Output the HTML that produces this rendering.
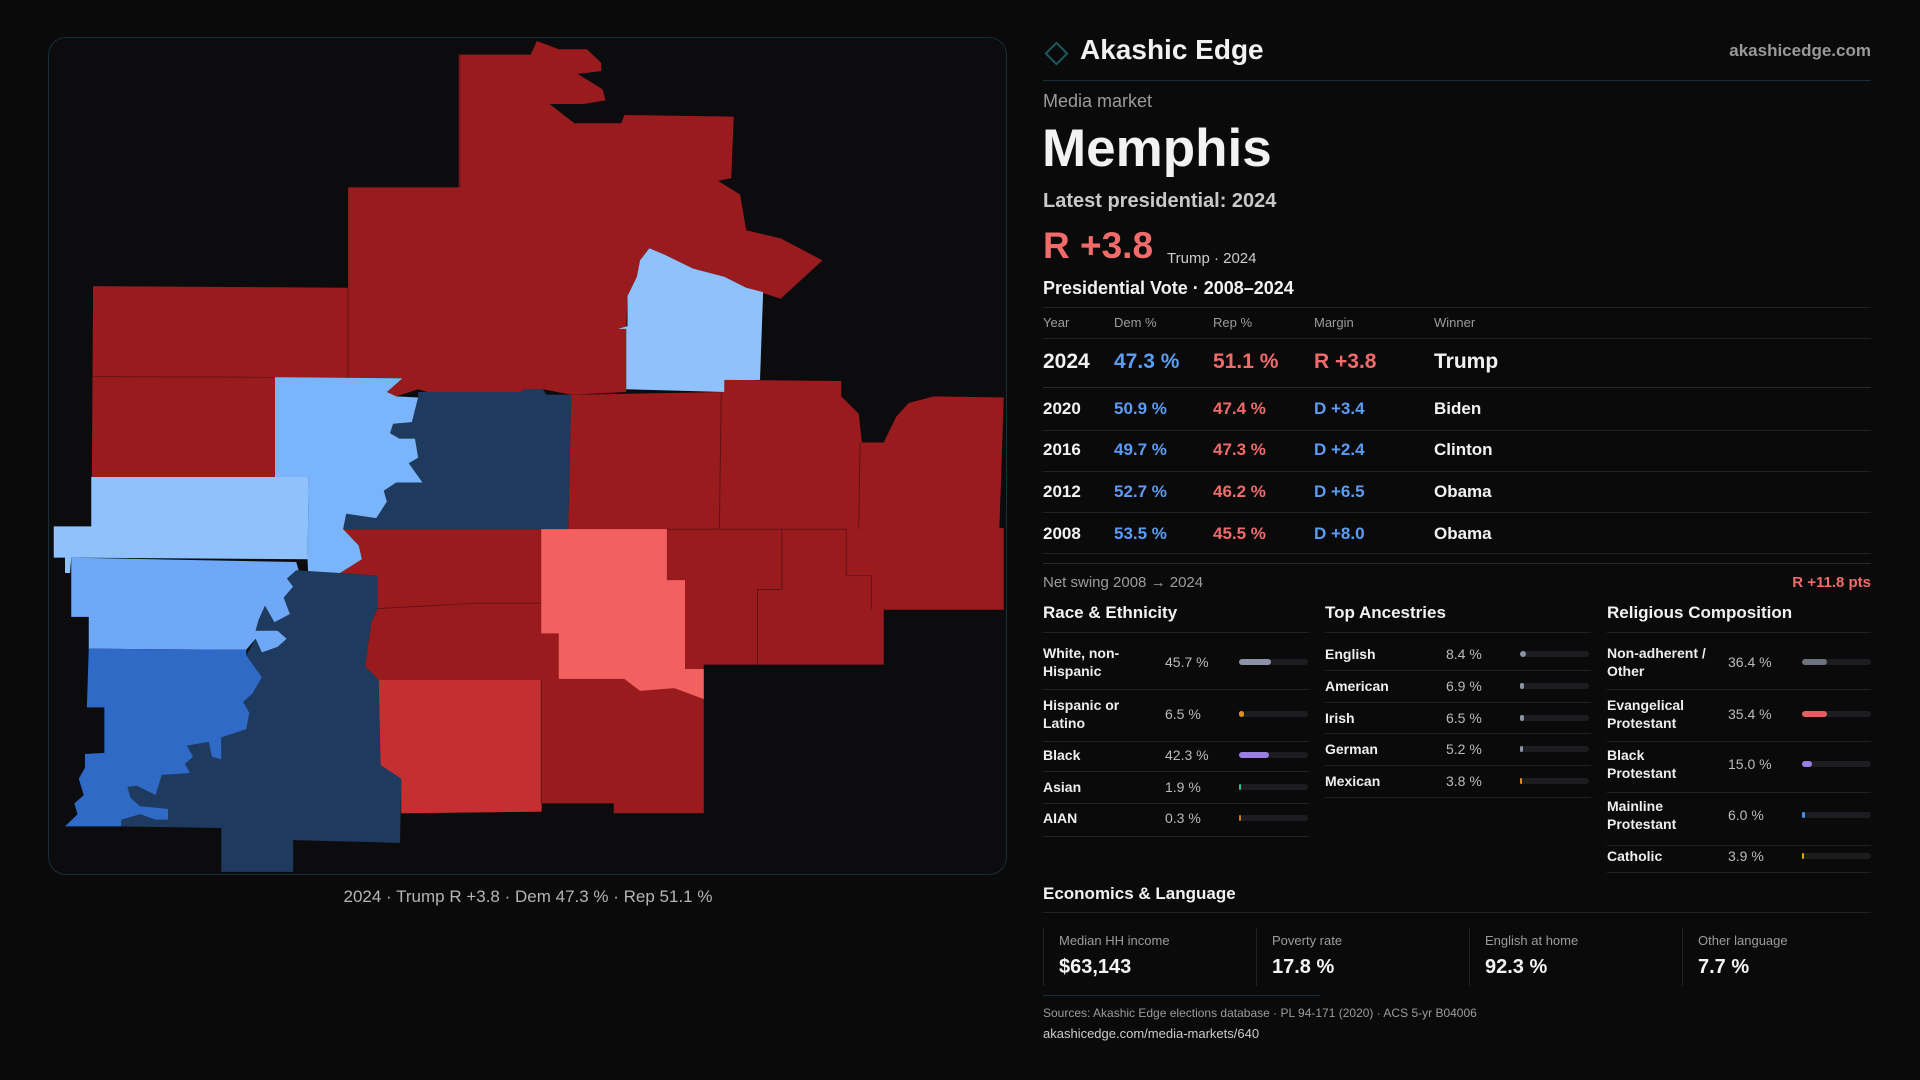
<!DOCTYPE html>
<html><head><meta charset="utf-8">
<style>
*{margin:0;padding:0;box-sizing:border-box}
body{width:1920px;height:1080px;background:#0a0a0b;position:relative;overflow:hidden;font-family:"Liberation Sans",sans-serif;color:#f2f2f2}
.a{position:absolute;white-space:nowrap;line-height:1}
.g{color:#9c9c9c}
.b{color:#5b9cf5}
.r{color:#f26b6b}
.hl{position:absolute;height:1px;background:#202124}
.trk{position:absolute;height:6px;border-radius:3px;background:#1c1d20}
.fill{position:absolute;left:0;top:0;height:6px;border-radius:3px}
.lab{position:absolute;font-size:14px;line-height:18px;font-weight:bold;color:#eee}
.val{position:absolute;font-size:14px;line-height:1;color:#bbb}
.sb{position:absolute;top:928px;height:58px;border-left:1px solid #222;width:213px}
.sb .l{position:absolute;left:15px;top:5px;font-size:13px;color:#9c9c9c}
.sb .v{position:absolute;left:15px;top:28px;font-size:20px;font-weight:bold;color:#f4f4f4}
</style></head><body>

<div style="position:absolute;left:48px;top:37px;width:959px;height:838px;border:1px solid #123036;border-radius:18px;background:#0c0c0e"></div>
<svg style="position:absolute;left:40px;top:30px" width="980" height="860" viewBox="0 0 1568 1568" preserveAspectRatio="none">
<polygon fill="#991b1e" points="670,45 785,45 795,20 830,35 875,35 898,60 898,75 860,80 900,108 905,128 870,135 815,135 855,170 930,170 935,155 1110,158 1106,270 1085,275 1120,300 1130,365 1185,380 1252,420 1185,490 1130,470 1095,450 1045,435 1000,410 975,398 960,420 955,450 940,485 938,545 938,660 850,665 805,655 770,660 620,660 605,655 570,668 555,660 580,635 376,633 376,815 83,815 85,467 493,470 493,287 670,287"/>
<polygon fill="#8fc1fc" points="975,398 1000,410 1045,435 1095,450 1130,470 1157,478 1152,638 1095,640 1095,660 938,655 938,545 925,545 940,540 940,485 955,450 960,420"/>
<polygon fill="#991b1e" points="850,665 1095,660 1095,638 1282,640 1282,668 1310,700 1315,752 1350,752 1370,705 1390,680 1430,668 1542,670 1535,908 1542,908 1542,1057 1350,1057 1350,1157 1062,1157 1062,1428 918,1428 918,1410 803,1410 803,1425 578,1428 578,1365 545,1340 542,1185 520,1160 530,1080 540,1055 540,995 480,990 515,965 510,940 485,910 845,910"/>
<polygon fill="#1e3a5f" points="605,660 620,660 770,660 775,655 805,655 810,665 850,665 845,910 485,910 490,882 538,890 555,860 550,840 570,825 612,825 590,790 605,780 600,745 575,745 560,735 565,718 595,715 605,670"/>
<polygon fill="#7ab4fa" points="376,633 580,635 555,660 570,668 605,670 595,715 565,718 560,735 575,745 600,745 605,780 590,790 612,825 570,825 550,840 555,860 538,890 490,882 485,910 510,940 515,965 480,990 430,1012 428,965 430,815 376,815"/>
<polygon fill="#8fc1fc" points="82,815 430,815 428,965 50,962 48,990 40,990 40,962 22,962 22,905 82,905"/>
<polygon fill="#6ea8f7" points="50,962 410,970 415,990 405,1015 390,1035 400,1065 375,1080 360,1050 350,1075 345,1095 380,1095 395,1110 380,1125 355,1135 345,1110 330,1130 78,1128 78,1070 50,1070"/>
<polygon fill="#1e3a5f" points="480,990 540,995 540,1055 530,1080 520,1160 542,1185 545,1340 578,1365 576,1482 405,1477 405,1535 290,1535 290,1455 130,1452 130,1440 160,1430 185,1440 205,1440 205,1420 160,1415 145,1400 140,1380 155,1378 185,1395 195,1358 240,1355 232,1338 245,1325 235,1305 270,1298 275,1325 290,1330 290,1290 330,1275 335,1245 325,1225 340,1210 355,1180 330,1140 345,1110 355,1135 380,1125 395,1110 380,1095 345,1095 350,1075 360,1050 375,1080 400,1065 390,1035 405,1015 395,1000 410,985"/>
<polygon fill="#2f6ac6" points="78,1128 330,1130 330,1140 355,1180 340,1210 325,1225 335,1245 330,1275 290,1290 290,1330 275,1325 270,1298 235,1305 245,1325 232,1338 240,1355 195,1358 185,1395 155,1378 140,1380 145,1400 160,1415 205,1420 205,1440 185,1440 160,1430 130,1440 130,1452 40,1452 60,1430 55,1410 70,1395 62,1365 72,1345 72,1320 103,1318 103,1235 75,1235"/>
<polygon fill="#f26060" points="802,910 1003,910 1003,1003 1032,1003 1032,1165 1062,1165 1062,1220 1015,1200 960,1205 935,1183 830,1183 830,1100 802,1100"/>
<polygon fill="#c52f31" points="542,1185 802,1185 802,1425 578,1428 578,1365 545,1340"/>
<g stroke="#5c1214" stroke-width="1.5" fill="none">
<polyline points="83,632 376,633"/><polyline points="493,470 493,633"/><polyline points="672,287 672,45"/>
<polyline points="1090,660 1087,910"/><polyline points="1312,752 1310,910"/><polyline points="1003,910 1290,910 1290,995 1330,995 1330,1057"/>
<polyline points="1187,910 1187,1020 1148,1020 1148,1157"/><polyline points="802,1185 802,1410"/><polyline points="540,1055 700,1045 802,1045"/>
</g>
</svg>
<div class="a g" style="left:0;width:1056px;text-align:center;top:888px;font-size:17px;color:#b5b5b5">2024 · Trump R +3.8 · Dem 47.3 % · Rep 51.1 %</div>

<div style="position:absolute;left:1048px;top:45px;width:17px;height:17px;border:2px solid #1a5a60;transform:rotate(45deg)"></div>
<div class="a" style="left:1080px;top:36px;font-size:28px;font-weight:bold">Akashic Edge</div>
<div class="a g" style="right:49px;top:42px;font-size:17px;font-weight:bold;color:#999">akashicedge.com</div>
<div class="hl" style="left:1043px;width:828px;top:80px;background:#163238"></div>
<div class="a g" style="left:1043px;top:92px;font-size:18px">Media market</div>
<div class="a" style="left:1042px;top:122px;font-size:53px;font-weight:bold">Memphis</div>
<div class="a" style="left:1043px;top:191px;font-size:20px;font-weight:bold;color:#c8c8c8">Latest presidential: 2024</div>
<div class="a r" style="left:1043px;top:227px;font-size:37px;font-weight:bold">R +3.8</div>
<div class="a" style="left:1167px;top:251px;font-size:15px;color:#ccc">Trump · 2024</div>
<div class="a" style="left:1043px;top:279px;font-size:18px;font-weight:bold">Presidential Vote · 2008–2024</div>
<div class="hl" style="left:1043px;width:828px;top:307px"></div>
<div class="a g" style="left:1043px;top:316px;font-size:13px">Year</div>
<div class="a g" style="left:1114px;top:316px;font-size:13px">Dem %</div>
<div class="a g" style="left:1213px;top:316px;font-size:13px">Rep %</div>
<div class="a g" style="left:1314px;top:316px;font-size:13px">Margin</div>
<div class="a g" style="left:1434px;top:316px;font-size:13px">Winner</div>
<div class="hl" style="left:1043px;width:828px;top:338px"></div>
<div class="a" style="left:1043px;top:351px;font-size:21px;font-weight:bold">2024</div>
<div class="a b" style="left:1114px;top:351px;font-size:21px;font-weight:bold">47.3 %</div>
<div class="a r" style="left:1213px;top:351px;font-size:21px;font-weight:bold">51.1 %</div>
<div class="a r" style="left:1314px;top:351px;font-size:21px;font-weight:bold">R +3.8</div>
<div class="a" style="left:1434px;top:351px;font-size:21px;font-weight:bold">Trump</div>
<div class="hl" style="left:1043px;width:828px;top:387px;background:#2a2b2e"></div>

<div class="a" style="left:1043px;top:400px;font-size:17px;font-weight:bold">2020</div>
<div class="a b" style="left:1114px;top:400px;font-size:17px;font-weight:bold">50.9 %</div>
<div class="a r" style="left:1213px;top:400px;font-size:17px;font-weight:bold">47.4 %</div>
<div class="a b" style="left:1314px;top:400px;font-size:17px;font-weight:bold">D +3.4</div>
<div class="a" style="left:1434px;top:400px;font-size:17px;font-weight:bold">Biden</div>
<div class="hl" style="left:1043px;width:828px;top:430px"></div>
<div class="a" style="left:1043px;top:441px;font-size:17px;font-weight:bold">2016</div>
<div class="a b" style="left:1114px;top:441px;font-size:17px;font-weight:bold">49.7 %</div>
<div class="a r" style="left:1213px;top:441px;font-size:17px;font-weight:bold">47.3 %</div>
<div class="a b" style="left:1314px;top:441px;font-size:17px;font-weight:bold">D +2.4</div>
<div class="a" style="left:1434px;top:441px;font-size:17px;font-weight:bold">Clinton</div>
<div class="hl" style="left:1043px;width:828px;top:471px"></div>
<div class="a" style="left:1043px;top:483px;font-size:17px;font-weight:bold">2012</div>
<div class="a b" style="left:1114px;top:483px;font-size:17px;font-weight:bold">52.7 %</div>
<div class="a r" style="left:1213px;top:483px;font-size:17px;font-weight:bold">46.2 %</div>
<div class="a b" style="left:1314px;top:483px;font-size:17px;font-weight:bold">D +6.5</div>
<div class="a" style="left:1434px;top:483px;font-size:17px;font-weight:bold">Obama</div>
<div class="hl" style="left:1043px;width:828px;top:512px"></div>
<div class="a" style="left:1043px;top:525px;font-size:17px;font-weight:bold">2008</div>
<div class="a b" style="left:1114px;top:525px;font-size:17px;font-weight:bold">53.5 %</div>
<div class="a r" style="left:1213px;top:525px;font-size:17px;font-weight:bold">45.5 %</div>
<div class="a b" style="left:1314px;top:525px;font-size:17px;font-weight:bold">D +8.0</div>
<div class="a" style="left:1434px;top:525px;font-size:17px;font-weight:bold">Obama</div>
<div class="hl" style="left:1043px;width:828px;top:553px"></div>
<div class="hl" style="left:1043px;width:828px;top:563px;background:#2a2b2e"></div>
<div class="a g" style="left:1043px;top:575px;font-size:15px">Net swing 2008 → 2024</div>
<div class="a r" style="right:49px;top:575px;font-size:15px;font-weight:bold">R +11.8 pts</div>

<div class="a" style="left:1043px;top:604px;font-size:17px;font-weight:bold">Race &amp; Ethnicity</div>
<div class="a" style="left:1325px;top:604px;font-size:17px;font-weight:bold">Top Ancestries</div>
<div class="a" style="left:1607px;top:604px;font-size:17px;font-weight:bold">Religious Composition</div>
<div class="hl" style="left:1043px;width:266px;top:632px"></div>
<div class="hl" style="left:1325px;width:266px;top:632px"></div>
<div class="hl" style="left:1607px;width:264px;top:632px"></div>

<div class="lab" style="left:1043px;top:644px">White, non-<br>Hispanic</div><div class="val" style="left:1165px;top:655px">45.7 %</div><div class="trk" style="left:1239px;top:659px;width:69px"><div class="fill" style="width:32px;background:#8a94a6"></div></div>
<div class="hl" style="left:1043px;width:266px;top:689px"></div>
<div class="lab" style="left:1043px;top:696px">Hispanic or<br>Latino</div><div class="val" style="left:1165px;top:707px">6.5 %</div><div class="trk" style="left:1239px;top:711px;width:69px"><div class="fill" style="width:5px;background:#e0930e"></div></div>
<div class="hl" style="left:1043px;width:266px;top:741px"></div>
<div class="lab" style="left:1043px;top:746px">Black</div><div class="val" style="left:1165px;top:748px">42.3 %</div><div class="trk" style="left:1239px;top:752px;width:69px"><div class="fill" style="width:30px;background:#9a7fe0"></div></div>
<div class="hl" style="left:1043px;width:266px;top:771px"></div>
<div class="lab" style="left:1043px;top:778px">Asian</div><div class="val" style="left:1165px;top:780px">1.9 %</div><div class="trk" style="left:1239px;top:784px;width:69px"><div class="fill" style="width:2px;background:#2fbf9a"></div></div>
<div class="hl" style="left:1043px;width:266px;top:803px"></div>
<div class="lab" style="left:1043px;top:809px">AIAN</div><div class="val" style="left:1165px;top:811px">0.3 %</div><div class="trk" style="left:1239px;top:815px;width:69px"><div class="fill" style="width:2px;background:#d07a10"></div></div>
<div class="hl" style="left:1043px;width:266px;top:836px"></div>

<div class="lab" style="left:1325px;top:645px">English</div><div class="val" style="left:1446px;top:647px">8.4 %</div><div class="trk" style="left:1520px;top:651px;width:69px"><div class="fill" style="width:6px;background:#8a94a6"></div></div>
<div class="hl" style="left:1325px;width:266px;top:670px"></div>
<div class="lab" style="left:1325px;top:677px">American</div><div class="val" style="left:1446px;top:679px">6.9 %</div><div class="trk" style="left:1520px;top:683px;width:69px"><div class="fill" style="width:4px;background:#8a94a6"></div></div>
<div class="hl" style="left:1325px;width:266px;top:702px"></div>
<div class="lab" style="left:1325px;top:709px">Irish</div><div class="val" style="left:1446px;top:711px">6.5 %</div><div class="trk" style="left:1520px;top:715px;width:69px"><div class="fill" style="width:4px;background:#8a94a6"></div></div>
<div class="hl" style="left:1325px;width:266px;top:733px"></div>
<div class="lab" style="left:1325px;top:740px">German</div><div class="val" style="left:1446px;top:742px">5.2 %</div><div class="trk" style="left:1520px;top:746px;width:69px"><div class="fill" style="width:3px;background:#8a94a6"></div></div>
<div class="hl" style="left:1325px;width:266px;top:765px"></div>
<div class="lab" style="left:1325px;top:772px">Mexican</div><div class="val" style="left:1446px;top:774px">3.8 %</div><div class="trk" style="left:1520px;top:778px;width:69px"><div class="fill" style="width:2px;background:#e0930e"></div></div>
<div class="hl" style="left:1325px;width:266px;top:797px"></div>

<div class="lab" style="left:1607px;top:644px">Non-adherent /<br>Other</div><div class="val" style="left:1728px;top:655px">36.4 %</div><div class="trk" style="left:1802px;top:659px;width:69px"><div class="fill" style="width:25px;background:#6b7280"></div></div>
<div class="hl" style="left:1607px;width:264px;top:689px"></div>
<div class="lab" style="left:1607px;top:696px">Evangelical<br>Protestant</div><div class="val" style="left:1728px;top:707px">35.4 %</div><div class="trk" style="left:1802px;top:711px;width:69px"><div class="fill" style="width:25px;background:#e06060"></div></div>
<div class="hl" style="left:1607px;width:264px;top:741px"></div>
<div class="lab" style="left:1607px;top:746px">Black<br>Protestant</div><div class="val" style="left:1728px;top:757px">15.0 %</div><div class="trk" style="left:1802px;top:761px;width:69px"><div class="fill" style="width:10px;background:#9a7fe0"></div></div>
<div class="hl" style="left:1607px;width:264px;top:792px"></div>
<div class="lab" style="left:1607px;top:797px">Mainline<br>Protestant</div><div class="val" style="left:1728px;top:808px">6.0 %</div><div class="trk" style="left:1802px;top:812px;width:69px"><div class="fill" style="width:3px;background:#4a90e2"></div></div>
<div class="hl" style="left:1607px;width:264px;top:845px"></div>
<div class="lab" style="left:1607px;top:847px">Catholic</div><div class="val" style="left:1728px;top:849px">3.9 %</div><div class="trk" style="left:1802px;top:853px;width:69px"><div class="fill" style="width:2px;background:#e0a800"></div></div>
<div class="hl" style="left:1607px;width:264px;top:872px"></div>

<div class="a" style="left:1043px;top:885px;font-size:17px;font-weight:bold">Economics &amp; Language</div>
<div class="hl" style="left:1043px;width:828px;top:912px"></div>
<div class="sb" style="left:1043px"><div class="l">Median HH income</div><div class="v">$63,143</div></div>
<div class="sb" style="left:1256px"><div class="l">Poverty rate</div><div class="v">17.8 %</div></div>
<div class="sb" style="left:1469px"><div class="l">English at home</div><div class="v">92.3 %</div></div>
<div class="sb" style="left:1682px"><div class="l">Other language</div><div class="v">7.7 %</div></div>
<div class="hl" style="left:1043px;width:277px;top:995px;background:#143036"></div>
<div class="a g" style="left:1043px;top:1007px;font-size:12px">Sources: Akashic Edge elections database · PL 94-171 (2020) · ACS 5-yr B04006</div>
<div class="a" style="left:1043px;top:1027px;font-size:13px;color:#ccc">akashicedge.com/media-markets/640</div>
</body></html>
